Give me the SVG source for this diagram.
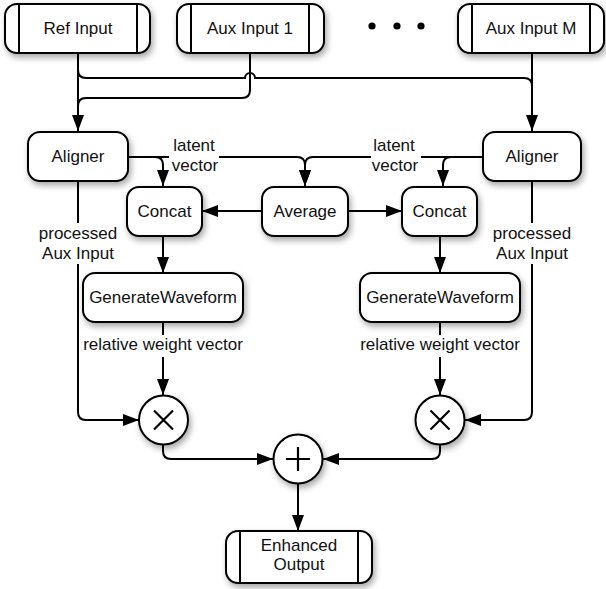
<svg xmlns="http://www.w3.org/2000/svg" width="606" height="589" viewBox="0 0 606 589">
  <defs>
    <filter id="shadow" x="-20%" y="-20%" width="150%" height="160%">
      <feDropShadow dx="2" dy="3.5" stdDeviation="3" flood-color="#000" flood-opacity="0.35"/>
    </filter>
    <marker id="arrow" markerUnits="userSpaceOnUse" markerWidth="16" markerHeight="12" refX="16" refY="6" orient="auto">
      <path d="M0,0 L16,6 L0,12 z" fill="#000"/>
    </marker>
  </defs>
  <style>
    .box { fill: #fff; stroke: #000; stroke-width: 2; filter: url(#shadow); }
    .bar { stroke: #000; stroke-width: 2; }
    .edge { fill: none; stroke: #000; stroke-width: 2; }
    .arr { marker-end: url(#arrow); }
    .sym { stroke: #000; stroke-width: 2.2; fill: none; }
    text { font-family: "Liberation Sans", Arial, sans-serif; font-size: 17px; fill: #111; text-anchor: middle; }
    .lblbg { fill: #fff; }
  </style>

  <rect width="606" height="589" fill="#fff"/>

  <!-- connectors -->
  <g id="connectors">
    <!-- inputs to aligners -->
    <path class="edge arr" d="M78,53 V131"/>
    <path class="edge" d="M78,53 V70 Q78,78 86,78 H245 A5,5 0 0 1 255,78 H524 Q532,78 532,86"/>
    <path class="edge" d="M250,53 V90 Q250,98 242,98 H86 Q78,98 78,106"/>
    <path class="edge arr" d="M532,53 V131"/>

    <!-- latent vectors -->
    <path class="edge arr" d="M128,157 H297 Q305,157 305,165 V186"/>
    <path class="edge arr" d="M155,157 Q163,157 163,165 V186"/>
    <path class="edge arr" d="M483,157 H313 Q305,157 305,165 V186"/>
    <path class="edge arr" d="M451,157 Q443,157 443,165 V186"/>

    <!-- average to concat -->
    <path class="edge arr" d="M262,211 H202"/>
    <path class="edge arr" d="M348,211 H402"/>

    <!-- concat to generate waveform -->
    <path class="edge arr" d="M163,236 V273"/>
    <path class="edge arr" d="M440,236 V273"/>

    <!-- waveform weights to multipliers -->
    <path class="edge arr" d="M163,322 V395"/>
    <path class="edge arr" d="M440,322 V395"/>

    <!-- processed aux inputs to multipliers -->
    <path class="edge arr" d="M78,181 V412 Q78,420 86,420 H139"/>
    <path class="edge arr" d="M532,181 V412 Q532,420 524,420 H465"/>

    <!-- multipliers to sum -->
    <path class="edge arr" d="M163,445 V451 Q163,459 171,459 H273"/>
    <path class="edge arr" d="M440,445 V451 Q440,459 432,459 H323"/>

    <!-- sum to output -->
    <path class="edge arr" d="M298,484 V531"/>

    <!-- edge labels -->
    <rect class="lblbg" x="169" y="137" width="50" height="38"/>
    <text x="194" y="151">latent</text>
    <text x="195" y="171">vector</text>
    <rect class="lblbg" x="371" y="137" width="50" height="38"/>
    <text x="394" y="151">latent</text>
    <text x="395" y="171">vector</text>

    <rect class="lblbg" x="36" y="223" width="84" height="41"/>
    <text x="78" y="239">processed</text>
    <text x="78" y="259">Aux Input</text>
    <rect class="lblbg" x="490" y="223" width="84" height="41"/>
    <text x="532" y="239">processed</text>
    <text x="532" y="259">Aux Input</text>

    <rect class="lblbg" x="82" y="335" width="163" height="22"/>
    <text x="163" y="350">relative weight vector</text>
    <rect class="lblbg" x="359" y="335" width="163" height="22"/>
    <text x="440" y="350">relative weight vector</text>
  </g>

  <!-- input terminals -->
  <g id="ref-input">
    <rect class="box" x="5" y="4" width="145" height="49" rx="12"/>
    <line class="bar" x1="19" y1="4" x2="19" y2="53"/>
    <line class="bar" x1="137" y1="4" x2="137" y2="53"/>
    <text x="78" y="34">Ref Input</text>
  </g>
  <g id="aux-input-1">
    <rect class="box" x="177" y="4" width="147" height="49" rx="12"/>
    <line class="bar" x1="191" y1="4" x2="191" y2="53"/>
    <line class="bar" x1="309" y1="4" x2="309" y2="53"/>
    <text x="250" y="34">Aux Input 1</text>
  </g>
  <g id="ellipsis">
    <circle cx="372" cy="26" r="3.6" fill="#000"/>
    <circle cx="397" cy="26" r="3.6" fill="#000"/>
    <circle cx="421" cy="26" r="3.6" fill="#000"/>
  </g>
  <g id="aux-input-m">
    <rect class="box" x="458" y="4" width="146" height="49" rx="12"/>
    <line class="bar" x1="472" y1="4" x2="472" y2="53"/>
    <line class="bar" x1="590" y1="4" x2="590" y2="53"/>
    <text x="531" y="34">Aux Input M</text>
  </g>

  <!-- aligners -->
  <g id="aligner-left">
    <rect class="box" x="28" y="132" width="100" height="49" rx="12"/>
    <text x="78" y="162">Aligner</text>
  </g>
  <g id="aligner-right">
    <rect class="box" x="483" y="132" width="98" height="49" rx="12"/>
    <text x="532" y="162">Aligner</text>
  </g>

  <!-- concat / average -->
  <g id="concat-left">
    <rect class="box" x="127" y="187" width="75" height="49" rx="12"/>
    <text x="164.5" y="217">Concat</text>
  </g>
  <g id="average">
    <rect class="box" x="262" y="187" width="86" height="49" rx="12"/>
    <text x="305" y="217">Average</text>
  </g>
  <g id="concat-right">
    <rect class="box" x="402" y="187" width="75" height="49" rx="12"/>
    <text x="439.5" y="217">Concat</text>
  </g>

  <!-- waveform generators -->
  <g id="generate-left">
    <rect class="box" x="83" y="273" width="160" height="49" rx="12"/>
    <text x="163" y="303">GenerateWaveform</text>
  </g>
  <g id="generate-right">
    <rect class="box" x="360" y="273" width="160" height="49" rx="12"/>
    <text x="440" y="303">GenerateWaveform</text>
  </g>

  <!-- multipliers -->
  <g id="multiply-left">
    <circle class="box" cx="163.5" cy="420" r="24.5"/>
    <path class="sym" d="M154,410.5 L173,429.5 M173,410.5 L154,429.5"/>
  </g>
  <g id="multiply-right">
    <circle class="box" cx="440" cy="420" r="24.5"/>
    <path class="sym" d="M430.5,410.5 L449.5,429.5 M449.5,410.5 L430.5,429.5"/>
  </g>

  <!-- sum -->
  <g id="sum">
    <circle class="box" cx="298" cy="459" r="24.5"/>
    <path class="sym" d="M286,459 H310 M298,447 V471"/>
  </g>

  <!-- output terminal -->
  <g id="enhanced-output">
    <rect class="box" x="226" y="531" width="146" height="52" rx="12"/>
    <line class="bar" x1="240" y1="531" x2="240" y2="583"/>
    <line class="bar" x1="358" y1="531" x2="358" y2="583"/>
    <text x="299" y="551">Enhanced</text>
    <text x="299" y="570">Output</text>
  </g>
</svg>
